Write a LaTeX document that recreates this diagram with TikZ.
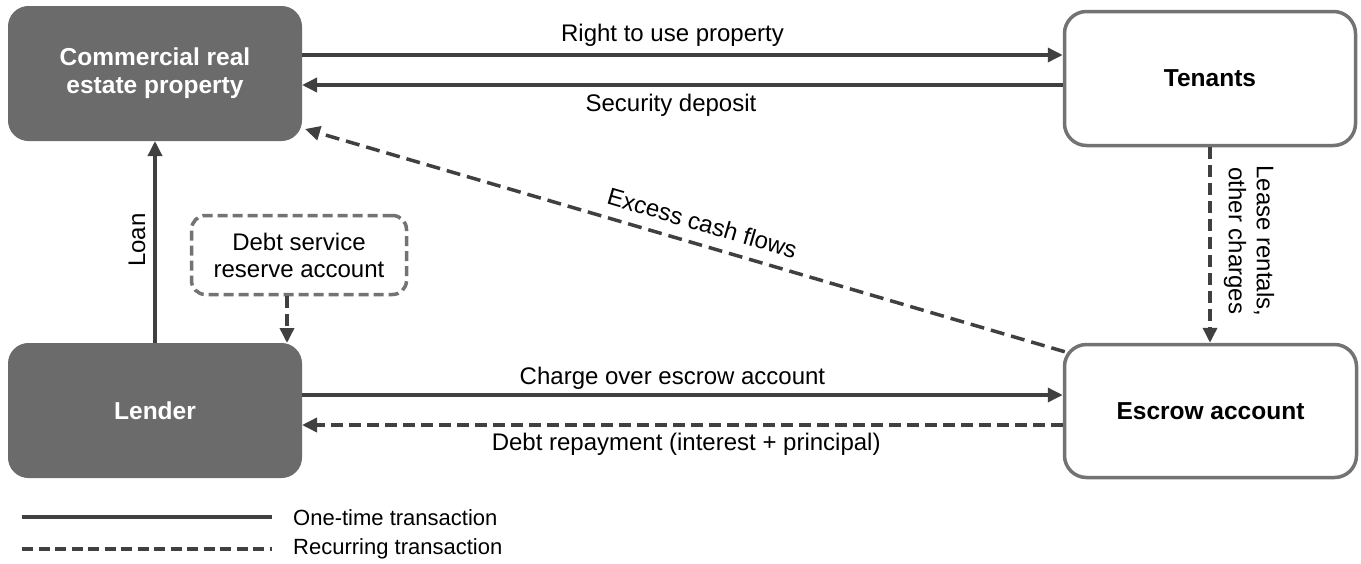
\documentclass[tikz,border=0pt]{standalone}
\usepackage{fontspec}
\setmainfont{Liberation Sans}
\usetikzlibrary{arrows.meta,calc}
\definecolor{boxgray}{HTML}{6B6B6B}
\definecolor{edgegray}{HTML}{737373}
\definecolor{linegray}{HTML}{404040}
\tikzset{
  darkbox/.style={rounded corners=20pt, fill=boxgray, draw=boxgray, line width=1pt, text=white, font=\fontsize{24.5}{28}\selectfont\bfseries, align=center},
  lightbox/.style={rounded corners=22pt, fill=white, draw=edgegray, line width=3.5pt, text=black, font=\fontsize{24.5}{28}\selectfont\bfseries, align=center},
  dashbox/.style={rounded corners=14pt, fill=white, draw=edgegray, line width=3.5pt, dash pattern=on 10pt off 5pt, font=\fontsize{24}{27}\selectfont, align=center},
  flow/.style={draw=linegray, line width=3.5pt, -{Triangle[length=15pt,width=14pt]}},
  recur/.style={flow, dash pattern=on 12pt off 6pt},
  lbl/.style={font=\fontsize{24}{28}\selectfont, text=black, inner sep=0pt},
  leg/.style={font=\fontsize{22}{26}\selectfont, text=black, inner sep=0pt, anchor=west},
  legline/.style={draw=linegray, line width=3.5pt}
}
\begin{document}
\begin{tikzpicture}[x=1pt,y=-1pt]
\useasboundingbox (0,0) rectangle (1361,563);
\node[darkbox, minimum width=293pt, minimum height=134pt] (cre) at (155,73.5) {Commercial real\\estate property};
\node[lightbox, minimum width=291pt, minimum height=134pt] (ten) at (1210,78.5) {Tenants};
\node[darkbox, minimum width=293pt, minimum height=134pt] (len) at (155,410.5) {Lender};
\node[lightbox, minimum width=292pt, minimum height=133pt] (esc) at (1210.5,411) {Escrow account};
\node[dashbox, minimum width=215pt, minimum height=79pt] (dsr) at (299,255) {Debt service\\reserve account};

% top pair
\draw[flow] ([yshift=18.5pt]cre.east) -- ([yshift=18.5pt]cre.east -| ten.west)
  node[lbl, pos=0.487, above=7pt] (l1) {Right to use property};
\draw[flow] ([yshift=-11.5pt]cre.east -| ten.west) -- ([yshift=-11.5pt]cre.east)
  node[lbl, pos=0.515, below=7pt] (l2) {Security deposit};
% bottom pair
\draw[flow] ([yshift=15.5pt]len.east) -- ([yshift=15.5pt]len.east -| esc.west)
  node[lbl, pos=0.487, above=4pt] (l3) {Charge over escrow account};
\draw[recur] ([yshift=-14.5pt]len.east -| esc.west) -- ([yshift=-14.5pt]len.east)
  node[lbl, pos=0.495, below=6pt] (l4) {Debt repayment (interest + principal)};
% loan
\draw[flow] (len.north) -- (cre.south);
\node[lbl, rotate=90] (loan) at (137,240) {Loan};
% debt service
\draw[recur] ([xshift=-12pt]dsr.south) -- ([xshift=-12pt]dsr.south |- len.north);
% lease
\draw[recur] (ten.south) -- (ten.south |- esc.north);
\node[lbl, rotate=-90, align=center, font=\fontsize{24}{28}\selectfont] (lease) at (1249,241) {Lease rentals,\\other charges};
% excess
\draw[recur, dash pattern=on 14pt off 7pt] ($(esc.north west)+(2,9)$) -- ($(cre.south east)+(3,-12)$)
  node[lbl, pos=0.485, sloped, above=11pt] (l5) {Excess cash flows};
% legend
\coordinate (a1) at (22,517); \coordinate (a2) at (272,517);
\coordinate (b1) at (22,549); \coordinate (b2) at (272,549);
\draw[legline] (a1) -- (a2);
\draw[legline, dash pattern=on 11pt off 5.5pt] (b1) -- (b2);
\node[leg] (t1) at (293,518) {One-time transaction};
\node[leg] (t2) at (293,549) {Recurring transaction};
\end{tikzpicture}
\end{document}
